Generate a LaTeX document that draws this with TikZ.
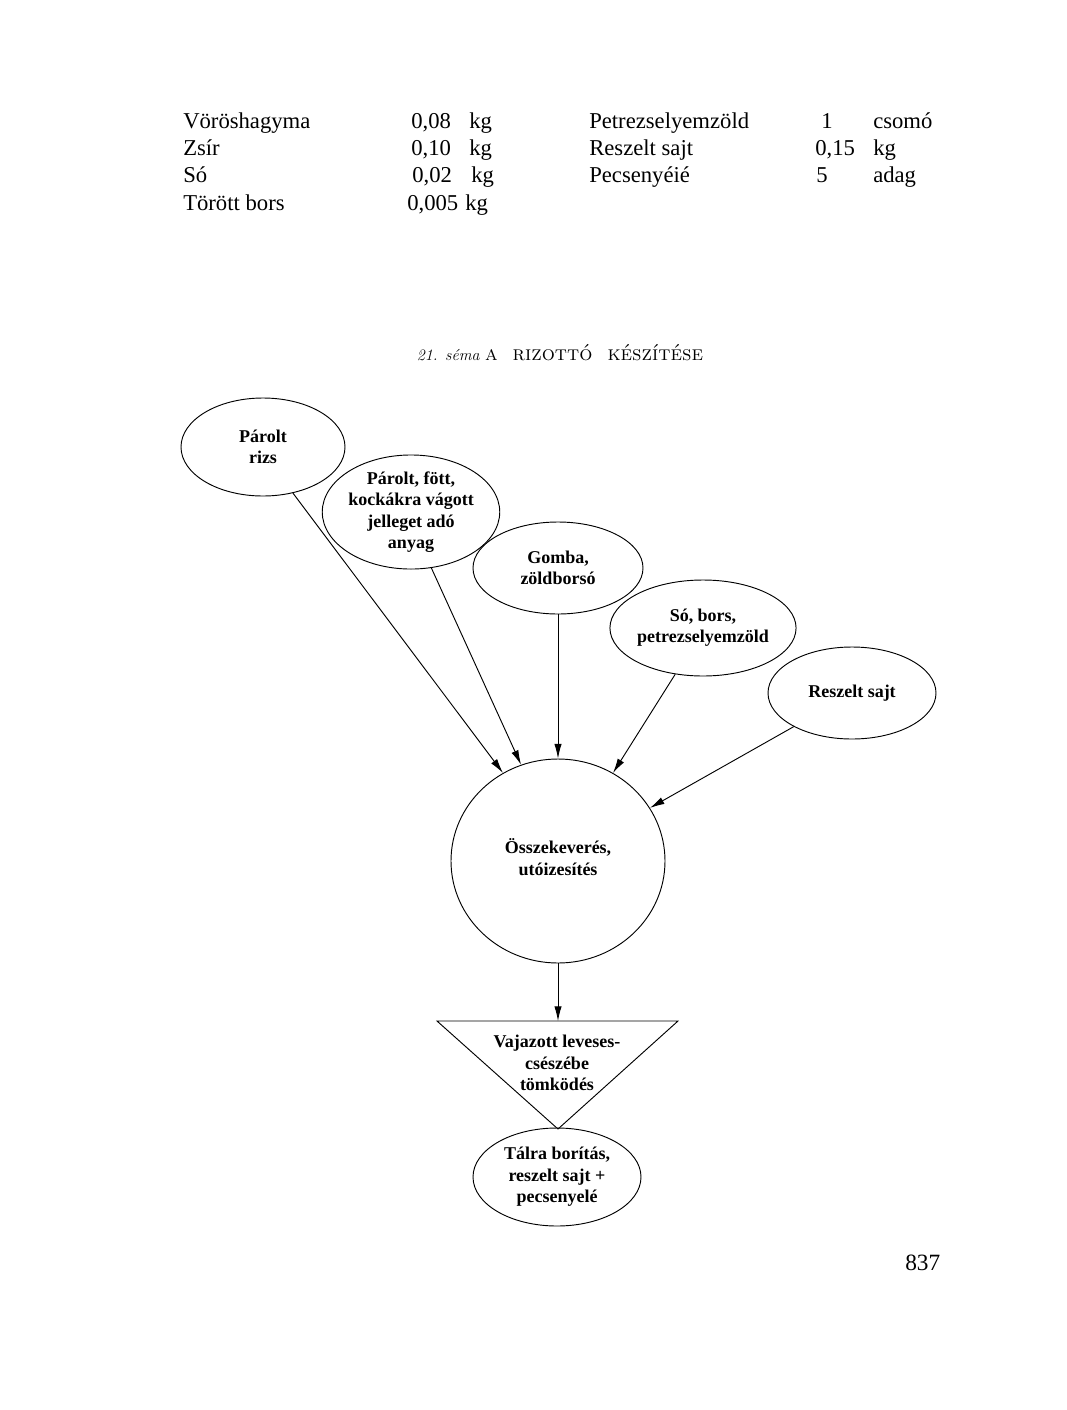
\documentclass[tikz,border=0pt]{standalone}
\usepackage{fontspec}
\newfontfamily\tnr{Liberation Serif}
\usetikzlibrary{shapes.geometric,arrows.meta}
\begin{document}
\begin{tikzpicture}[x=0.75pt,y=-0.75pt,
  tab/.style={anchor=base west,inner sep=0pt,font=\tnr\fontsize{17}{20}\selectfont},
  ell/.style={draw,ellipse,line width=0.7pt,inner sep=0pt,align=center,
    font=\tnr\bfseries\fontsize{13.5}{16}\selectfont},
  lbl/.style={align=center,inner sep=0pt,font=\tnr\bfseries\fontsize{13.5}{16}\selectfont},
  arr/.style={line width=0.7pt,-{Latex[length=11pt,width=5.5pt]}}]
\useasboundingbox (0,0) rectangle (1067,1410);
% ingredient table
\node[tab] (t11) at (183,128) {Vöröshagyma};
\node[tab] (t12) at (411,128) {0,08};
\node[tab] (t13) at (469,128) {kg};
\node[tab] (t14) at (589,128) {Petrezselyemzöld};
\node[tab] (t15) at (821,128) {1};
\node[tab] (t16) at (873,128) {csomó};
\node[tab] (t21) at (183,155) {Zsír};
\node[tab] (t22) at (411,155) {0,10};
\node[tab] (t23) at (469,155) {kg};
\node[tab] (t24) at (589,155) {Reszelt sajt};
\node[tab] (t25) at (815,155) {0,15};
\node[tab] (t26) at (873,155) {kg};
\node[tab] (t31) at (183,182) {Só};
\node[tab] (t32) at (412,182) {0,02};
\node[tab] (t33) at (471,182) {kg};
\node[tab] (t34) at (589,182) {Pecsenyéié};
\node[tab] (t35) at (816,182) {5};
\node[tab] (t36) at (873,182) {adag};
\node[tab] (t41) at (183,210) {Törött bors};
\node[tab] (t42) at (407,210) {0,005};
\node[tab] (t43) at (465,210) {kg};
% title
\node[anchor=base,inner sep=0pt,font=\fontsize{12}{14}\selectfont] (title) at (560,360)
  {\textit{21. séma} {\fontsize{15.5}{17}\selectfont\textsc{a\hspace{0.35em} rizottó\hspace{0.35em} készítése}}};
% diagram
\node[ell,minimum width=123pt,minimum height=73.5pt] (rizs) at (263,447) {Párolt\\rizs};
\node[ell,minimum width=129pt,minimum height=72pt] (jelleg) at (411,512)
  {Párolt, fött,\\kockákra vágott\\jelleget adó\\anyag};
\node[ell,minimum width=127.5pt,minimum height=69pt] (gomba) at (558,568) {Gomba,\\zöldborsó};
\node[ell,minimum width=124.5pt,minimum height=72pt] (so) at (703,628) {Só, bors,\\petrezselyemzöld};
\node[ell,minimum width=126pt,minimum height=69pt] (sajt) at (852,693) {Reszelt sajt};
\node[ell,minimum width=160.5pt,minimum height=153pt] (circ) at (558,861) {};
\node[lbl] (circtext) at (558,857) {Összekeverés,\\utóizesítés};
\coordinate (tl) at (437,1021);
\coordinate (tr) at (678,1021);
\coordinate (tb) at (558,1129);
\coordinate (ttop) at (558,1021);
\draw[line width=0.7pt] (tl) -- (tr) -- (tb) -- cycle;
\node[lbl] (tritext) at (557,1063) {Vajazott leveses-\\csészébe\\tömködés};
\node[ell,minimum width=126pt,minimum height=73.5pt] (talra) at (557,1177)
  {Tálra borítás,\\reszelt sajt +\\pecsenyelé};
% connectors
\draw[arr] (rizs.-57.4) -- (circ.122.4);
\draw[arr] (jelleg.-70.8) -- (circ.111.1);
\draw[arr] (gomba.south) -- (circ.north);
\draw[arr] (so.239) -- (circ.58.5);
\draw[arr] (sajt.210.8) -- (circ.30.5);
\draw[arr] (circ.south) -- (ttop);
% page number
\node[anchor=base west,inner sep=0pt,font=\tnr\fontsize{17.5}{20}\selectfont] (page) at (905,1270) {837};
\end{tikzpicture}
\end{document}
